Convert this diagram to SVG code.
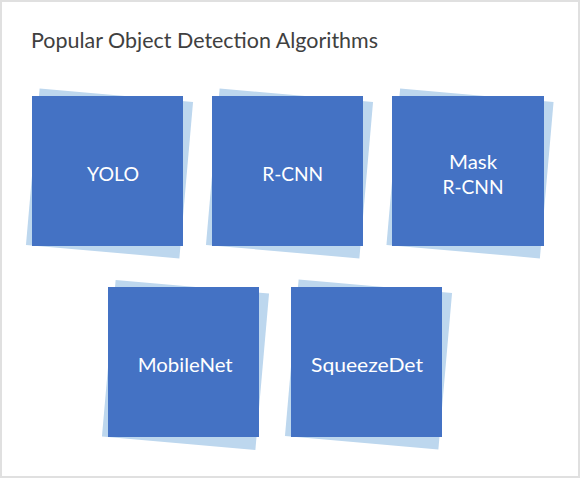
<svg xmlns="http://www.w3.org/2000/svg" width="580" height="478" viewBox="0 0 580 478">
  <style>
    .back { fill: #BDD7EE; }
    .front { fill: #4472C4; }
    .label { fill: #FFFFFF; font-family: Lato, "Noto Sans", "Liberation Sans", sans-serif; font-size: 20px; text-anchor: middle; }
    .title { fill: #404040; font-family: Lato, "Noto Sans", "Liberation Sans", sans-serif; font-size: 21px; }
  </style>
  <rect x="0" y="0" width="580" height="478" fill="#E0E0E0"/>
  <rect x="2" y="2" width="576" height="474" fill="#FFFFFF"/>
  <text class="title" x="31" y="47.5" textLength="347" lengthAdjust="spacingAndGlyphs">Popular Object Detection Algorithms</text>
  <g id="connectors"></g>
  <g id="node-yolo">
    <rect class="back" x="-77" y="-78.5" width="154" height="157" transform="translate(109.5,173.5) rotate(5)"/>
    <rect class="front" x="32" y="96" width="151" height="150"/>
    <text class="label" x="113" y="180.5" textLength="52" lengthAdjust="spacingAndGlyphs">YOLO</text>
  </g>
  <g id="node-rcnn">
    <rect class="back" x="-77" y="-78.5" width="154" height="157" transform="translate(289.5,173.5) rotate(5)"/>
    <rect class="front" x="212" y="96" width="151" height="150"/>
    <text class="label" x="292.7" y="180.5" textLength="61" lengthAdjust="spacingAndGlyphs">R-CNN</text>
  </g>
  <g id="node-maskrcnn">
    <rect class="back" x="-77" y="-78.5" width="154" height="157" transform="translate(470,173.5) rotate(5)"/>
    <rect class="front" x="392" y="96" width="152" height="150"/>
    <text class="label" x="473" y="169" textLength="48" lengthAdjust="spacingAndGlyphs">Mask</text>
    <text class="label" x="473" y="193.5" textLength="61" lengthAdjust="spacingAndGlyphs">R-CNN</text>
  </g>
  <g id="node-mobilenet">
    <rect class="back" x="-77" y="-78.5" width="154" height="157" transform="translate(185.5,365) rotate(5)"/>
    <rect class="front" x="108" y="287" width="151" height="150"/>
    <text class="label" x="185.2" y="371.7" textLength="95" lengthAdjust="spacingAndGlyphs">MobileNet</text>
  </g>
  <g id="node-squeezedet">
    <rect class="back" x="-77" y="-78.5" width="154" height="157" transform="translate(368.5,364.5) rotate(5)"/>
    <rect class="front" x="291" y="287" width="151" height="150"/>
    <text class="label" x="367" y="371.7" textLength="112" lengthAdjust="spacingAndGlyphs">SqueezeDet</text>
  </g>
</svg>
